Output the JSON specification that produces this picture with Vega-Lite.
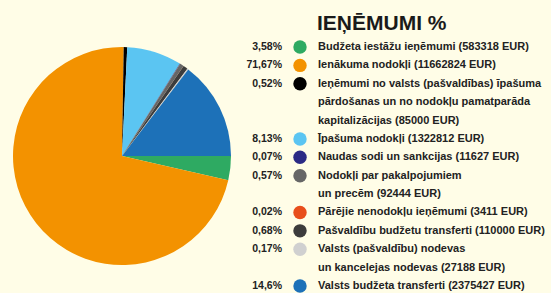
{
  "$schema": "https://vega.github.io/schema/vega-lite/v6.json",
  "background": "#FFFDE7",
  "padding": {"top": 13, "left": 0, "right": 0, "bottom": 0},
  "spacing": 0,
  "bounds": "flush",
  "config": {"view": {"stroke": null}, "font": "Liberation Sans"},
  "datasets": {
    "items": [
      {"order": 1, "label": "Budžeta iestāžu ieņēmumi (583318 EUR)", "pct": "3,58%", "value": 583318, "lines": 1},
      {"order": 2, "label": "Ienākuma nodokļi (11662824 EUR)", "pct": "71,67%", "value": 11662824, "lines": 1},
      {"order": 3, "label": "Ieņēmumi no valsts (pašvaldības) īpašuma\npārdošanas un no nodokļu pamatparāda\nkapitalizācijas (85000 EUR)", "pct": "0,52%", "value": 85000, "lines": 3},
      {"order": 4, "label": "Īpašuma nodokļi (1322812 EUR)", "pct": "8,13%", "value": 1322812, "lines": 1},
      {"order": 5, "label": "Naudas sodi un sankcijas (11627 EUR)", "pct": "0,07%", "value": 11627, "lines": 1},
      {"order": 6, "label": "Nodokļi par pakalpojumiem\nun precēm (92444 EUR)", "pct": "0,57%", "value": 92444, "lines": 2},
      {"order": 7, "label": "Pārējie nenodokļu ieņēmumi (3411 EUR)", "pct": "0,02%", "value": 3411, "lines": 1},
      {"order": 8, "label": "Pašvaldību budžetu transferti (110000 EUR)", "pct": "0,68%", "value": 110000, "lines": 1},
      {"order": 9, "label": "Valsts (pašvaldību) nodevas\nun kancelejas nodevas (27188 EUR)", "pct": "0,17%", "value": 27188, "lines": 2},
      {"order": 10, "label": "Valsts budžeta transferti (2375427 EUR)", "pct": "14,6%", "value": 2375427, "lines": 1}
    ]
  },
  "hconcat": [
    {
      "width": 244,
      "height": 244,
      "data": {"name": "items"},
      "mark": {"type": "arc", "outerRadius": 109},
      "encoding": {
        "theta": {"field": "value", "type": "quantitative", "stack": true, "scale": {"range": [1.5708, 7.8540]}},
        "order": {"field": "order", "type": "quantitative"},
        "color": {
          "field": "order", "type": "ordinal",
          "scale": {"domain": [1,2,3,4,5,6,7,8,9,10], "range": ["#2EAA62", "#F39200", "#000000", "#5BC5F2", "#2B2A85", "#666666", "#E84E1B", "#3C3C3C", "#D0D0D0", "#1D71B8"]},
          "legend": null
        }
      }
    },
    {
      "width": 307,
      "height": 244,
      "title": {"text": "IEŅĒMUMI %", "anchor": "start", "frame": "group", "dx": 73, "offset": 0, "fontSize": 21, "fontWeight": "bold", "font": "Liberation Sans", "color": "#1a1a1a"},
      "data": {"name": "items"},
      "transform": [
        {"window": [{"op": "sum", "field": "lines", "as": "rest"}], "sort": [{"field": "order", "order": "descending"}]}
      ],
      "encoding": {
        "y": {"field": "rest", "type": "quantitative", "scale": {"domain": [1.435, 14.707], "nice": false, "zero": false}, "axis": null}
      },
      "layer": [
        {
          "mark": {"type": "text", "align": "right", "baseline": "middle", "fontSize": 10.5, "fontWeight": "bold", "color": "#222222"},
          "encoding": {
            "x": {"value": 38},
            "text": {"field": "pct"}
          }
        },
        {
          "mark": {"type": "circle", "size": 180, "opacity": 1},
          "encoding": {
            "x": {"value": 56},
            "color": {
              "field": "order", "type": "ordinal",
              "scale": {"domain": [1,2,3,4,5,6,7,8,9,10], "range": ["#2EAA62", "#F39200", "#000000", "#5BC5F2", "#2B2A85", "#666666", "#E84E1B", "#3C3C3C", "#D0D0D0", "#1D71B8"]},
              "legend": null
            }
          }
        },
        {
          "mark": {"type": "text", "align": "left", "baseline": "middle", "fontSize": 11, "fontWeight": "bold", "color": "#222222", "lineBreak": "\n", "lineHeight": 18.4},
          "encoding": {
            "x": {"value": 74},
            "text": {"field": "label"}
          }
        }
      ]
    }
  ]
}
